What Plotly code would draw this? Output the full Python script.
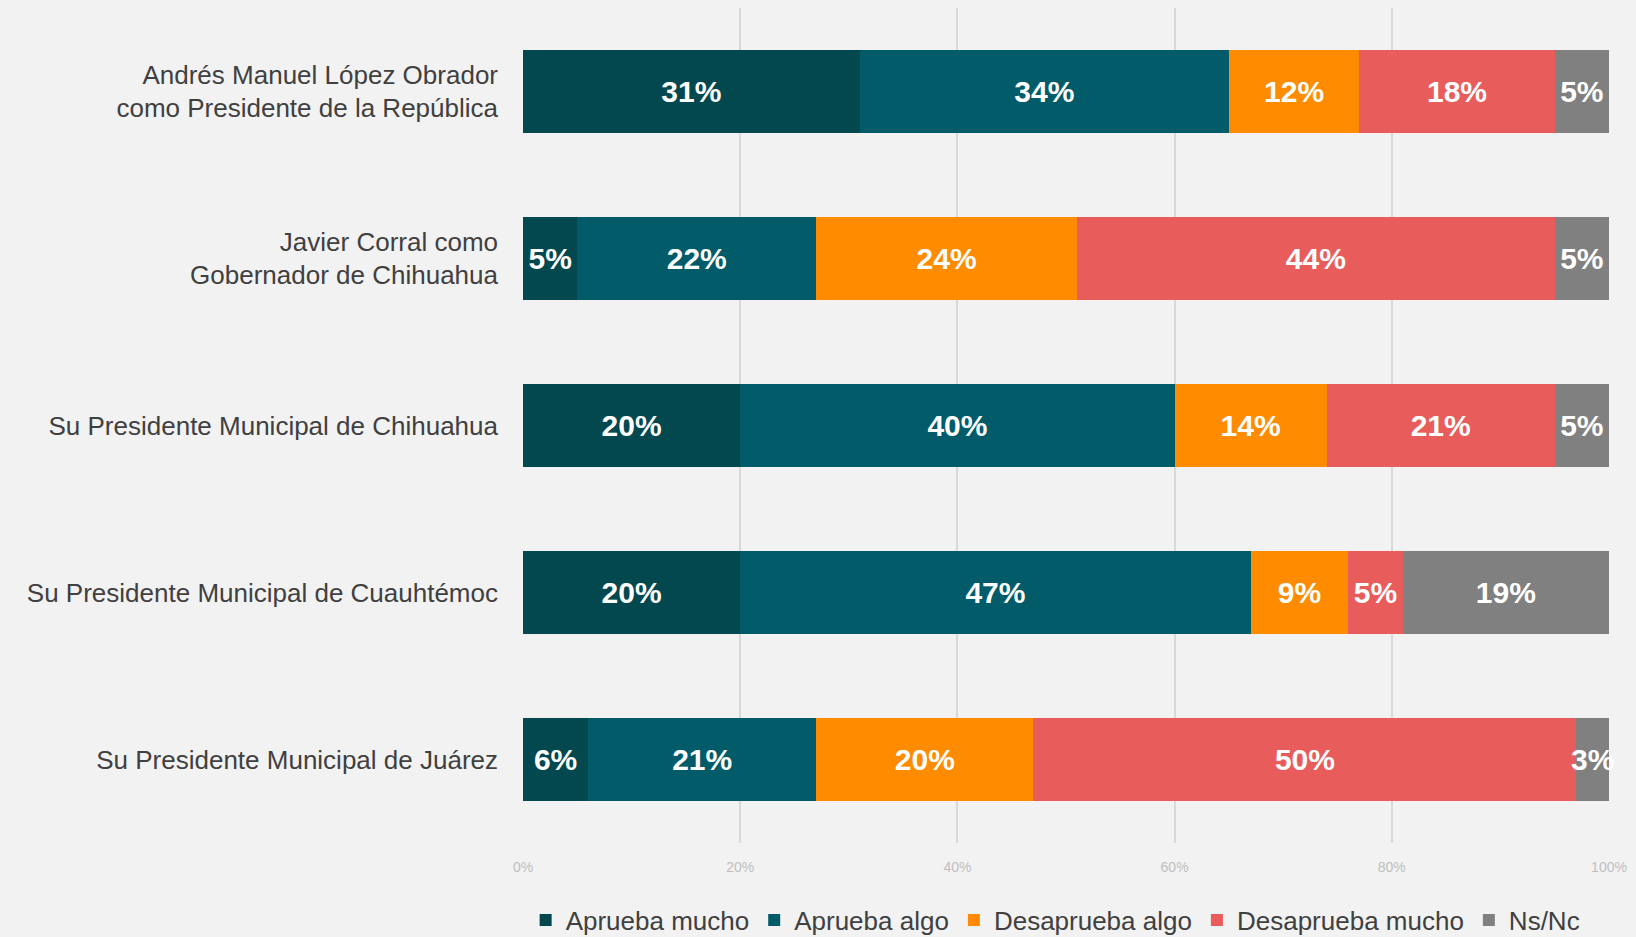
import plotly.graph_objects as go

categories = [
    "Andrés Manuel López Obrador<br>como Presidente de la República",
    "Javier Corral como<br>Gobernador de Chihuahua",
    "Su Presidente Municipal de Chihuahua",
    "Su Presidente Municipal de Cuauhtémoc",
    "Su Presidente Municipal de Juárez",
]
aprueba_mucho = [31, 5, 20, 20, 6]
aprueba_algo = [34, 22, 40, 47, 21]
desaprueba_algo = [12, 24, 14, 9, 20]
desaprueba_mucho = [18, 44, 21, 5, 50]
ns_nc = [5, 5, 5, 19, 3]

series = [
    ("Aprueba mucho", aprueba_mucho, "#03474F"),
    ("Aprueba algo", aprueba_algo, "#015B69"),
    ("Desaprueba algo", desaprueba_algo, "#FF8C00"),
    ("Desaprueba mucho", desaprueba_mucho, "#E85C5C"),
    ("Ns/Nc", ns_nc, "#808080"),
]

fig = go.Figure()
for name, vals, color in series:
    fig.add_trace(go.Bar(
        name=name,
        y=categories,
        x=[v / 100 for v in vals],
        orientation="h",
        marker=dict(color=color, line=dict(width=0)),
        text=[f"{v}%" for v in vals],
        textposition="inside",
        insidetextanchor="middle",
        constraintext="none",
        textangle=0,
        textfont=dict(family="Liberation Sans", size=30, color="white", weight="bold"),
        cliponaxis=False,
        hoverinfo="skip",
    ))

fig.update_layout(
    barmode="stack",
    bargap=0.5,
    width=1636,
    height=937,
    paper_bgcolor="#F2F2F2",
    plot_bgcolor="#F2F2F2",
    margin=dict(l=523, r=27, t=8, b=94, autoexpand=False),
    font=dict(family="Liberation Sans", color="#404040"),
    legend=dict(
        orientation="h",
        traceorder="normal",
        xref="paper",
        x=0.49, xanchor="center",
        yref="container",
        y=0.018, yanchor="middle",
        font=dict(family="Liberation Sans", size=26, color="#404040"),
        itemwidth=30,
        tracegroupgap=0,
    ),
    xaxis=dict(
        range=[0, 1],
        tickvals=[0, 0.2, 0.4, 0.6, 0.8, 1.0],
        tickformat=".0%",
        showgrid=True,
        gridcolor="#D9D9D9",
        gridwidth=1.5,
        zeroline=False,
        tickfont=dict(family="Liberation Sans", size=14, color="#BFBFBF"),
        ticks="",
        ticklabelstandoff=14,
    ),
    yaxis=dict(
        autorange="reversed",
        tickfont=dict(size=26, color="#404040"),
        ticks="",
        ticklabelstandoff=24,
        showgrid=False,
    ),
)

fig.write_html(
    "out.html",
    config={"displayModeBar": False},
    post_script="document.body.style.margin='0';document.body.style.background='#F2F2F2';",
)
